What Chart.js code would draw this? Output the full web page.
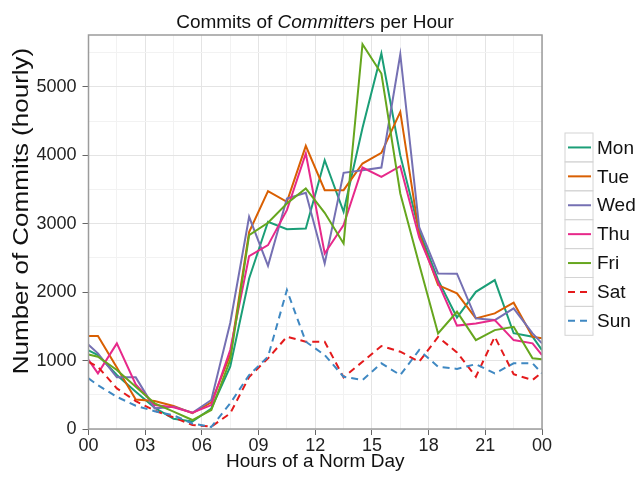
<!DOCTYPE html>
<html>
<head>
<meta charset="utf-8">
<script src="https://cdn.jsdelivr.net/npm/chart.js@4.4.1/dist/chart.umd.min.js"></script>
<style>
  html, body { margin: 0; padding: 0; background: #fff; }
  #wrap { position: relative; width: 636px; height: 480px; }
  #chart { position: absolute; left: 0; top: 0; }
  #title {
    position: absolute; left: 88px; width: 454px; top: 11px;
    text-align: center; line-height: 22px; color: #111;
    font: 19px "Liberation Sans", Arial, sans-serif;
  }
</style>
</head>
<body>
<div id="wrap">
  <canvas id="chart" width="636" height="480"></canvas>
  <div id="title">Commits of <i>Committer</i>s per Hour</div>
</div>
<script>
// ---------- Data ----------
const hours = [0, 0.5, 1.5, 2.5, 3.5, 4.5, 5.5, 6.5, 7.5, 8.5, 9.5, 10.5, 11.5,
  12.5, 13.5, 14.5, 15.5, 16.5, 17.5, 18.5, 19.5, 20.5, 21.5, 22.5, 23.5, 24];

const mon = [1150, 1080, 790, 545, 310, 150, 110, 300, 910, 2200, 3030, 2920, 2930,
  3930, 3175, 4400, 5490, 4000, 2900, 2180, 1630, 2006, 2177, 1400, 1349, 1154];
const tue = [1359, 1359, 900, 430, 409, 336, 230, 390, 1081, 2880, 3477, 3321, 4140,
  3492, 3492, 3881, 4037, 4636, 2850, 2104, 1982, 1617, 1690, 1846, 1349, 1325];
const wed = [1230, 1106, 755, 755, 302, 326, 238, 424, 1550, 3102, 2386, 3370, 3453,
  2420, 3745, 3784, 3823, 5479, 2950, 2274, 2270, 1617, 1592, 1763, 1398, 1252];
const thu = [1010, 813, 1252, 650, 350, 317, 238, 350, 1154, 2527, 2688, 3200, 4028,
  2566, 2980, 3823, 3687, 3842, 2800, 2140, 1512, 1544, 1592, 1300, 1252, 1081];
const fri = [1090, 1057, 862, 618, 375, 253, 131, 278, 1008, 2834, 3015, 3297, 3516,
  3160, 2713, 5625, 5196, 3443, 2410, 1397, 1714, 1300, 1446, 1495, 1033, 1018];
const sat = [980, 910, 594, 409, 268, 170, 58, 34, 229, 760, 1033, 1349, 1276,
  1276, 755, 983, 1213, 1130, 983, 1345, 1120, 764, 1349, 800, 716, 830];
const sun = [740, 640, 470, 340, 260, 200, 80, 30, 375, 789, 1057, 2031, 1276,
  1081, 764, 716, 960, 789, 1154, 910, 879, 948, 813, 960, 960, 813];

const dayNames = ['Mon', 'Tue', 'Wed', 'Thu', 'Fri', 'Sat', 'Sun'];
const xTickLabels = ['00', '03', '06', '09', '12', '15', '18', '21', '00'];
const yTickLabels = ['0', '1000', '2000', '3000', '4000', '5000'];
const xTitle = 'Hours of a Norm Day';
const yTitle = 'Number of Commits (hourly)';

// ---------- Styles ----------
const FONT = '"Liberation Sans", Arial, sans-serif';
const colors = ['#1B9E77', '#D95F02', '#7570B3', '#E7298A', '#66A61E', '#E41A1C', '#3F88C2'];
const dashes = [[], [], [], [], [], [7, 5], [7, 5]];
const series = [mon, tue, wed, thu, fri, sat, sun];

const datasets = series.map((vals, i) => ({
  label: dayNames[i],
  data: vals.map((v, k) => ({ x: hours[k], y: v })),
  borderColor: colors[i],
  borderDash: dashes[i],
  borderWidth: 2,
  pointRadius: 0,
  tension: 0,
  fill: false,
  order: 7 - i   // later series drawn on top
}));

const isMajorX = v => Math.abs(v % 3) < 1e-6;
const isMajorY = v => v % 1000 === 0;

// frame, rotated y title and boxed legend
const decorations = {
  id: 'decorations',
  afterDraw(chart) {
    const ctx = chart.ctx;
    const a = chart.chartArea;
    ctx.save();
    ctx.strokeStyle = '#9c9c9c';
    ctx.lineWidth = 1.5;
    ctx.strokeRect(a.left, a.top, a.right - a.left, a.bottom - a.top);

    ctx.save();
    ctx.translate(22, 211);
    ctx.scale(0.86, 1);
    ctx.rotate(-Math.PI / 2);
    ctx.font = '26px ' + FONT;
    ctx.fillStyle = '#111';
    ctx.textAlign = 'center';
    ctx.textBaseline = 'middle';
    ctx.fillText(yTitle, 0, 0);
    ctx.restore();

    const lx = 565, ly = 133, kw = 28, rh = 28.9;
    chart.data.datasets.forEach((ds, i) => {
      const top = ly + i * rh;
      const mid = top + rh / 2;
      ctx.setLineDash([]);
      ctx.strokeStyle = '#d4d4d4';
      ctx.lineWidth = 1;
      ctx.strokeRect(lx, top, kw, rh);
      ctx.strokeStyle = ds.borderColor;
      ctx.lineWidth = 2;
      ctx.setLineDash(ds.borderDash);
      ctx.beginPath();
      ctx.moveTo(lx + 3, mid);
      ctx.lineTo(lx + kw - 2, mid);
      ctx.stroke();
      ctx.setLineDash([]);
      ctx.fillStyle = '#111';
      ctx.font = '19px ' + FONT;
      ctx.textAlign = 'left';
      ctx.textBaseline = 'middle';
      ctx.fillText(ds.label, lx + kw + 4, mid + 1);
    });
    ctx.restore();
  }
};

new Chart(document.getElementById('chart'), {
  type: 'line',
  data: { datasets },
  plugins: [decorations],
  options: {
    responsive: false,
    animation: false,
    layout: { padding: { left: 0, right: 94, top: 35, bottom: 0 } },
    plugins: { legend: { display: false }, tooltip: { enabled: false } },
    scales: {
      x: {
        type: 'linear',
        min: 0,
        max: 24,
        afterFit: s => { s.height = 51; },
        border: { display: false },
        grid: {
          color: c => isMajorX(c.tick.value) ? '#e4e4e4' : '#f2f2f2',
          tickColor: c => isMajorX(c.tick.value) ? '#666' : 'rgba(0,0,0,0)',
          tickLength: 6,
          lineWidth: 1
        },
        ticks: {
          stepSize: 1.5,
          autoSkip: false,
          maxRotation: 0,
          includeBounds: false,
          padding: 0,
          color: '#222',
          font: { family: FONT, size: 18 },
          callback: v => isMajorX(v) ? xTickLabels[Math.round(v / 3)] : ''
        },
        title: {
          display: true,
          text: xTitle,
          color: '#111',
          font: { family: FONT, size: 19 },
          padding: { top: 0, bottom: 7 }
        }
      },
      y: {
        min: 0,
        max: 5760,
        afterFit: s => { s.width = 88.5; },
        // grid every 500, labels every 1000
        afterBuildTicks: s => {
          const t = [];
          for (let v = 0; v < s.max; v += 500) t.push({ value: v });
          s.ticks = t;
        },
        border: { display: false },
        grid: {
          color: c => isMajorY(c.tick.value) ? '#e4e4e4' : '#f2f2f2',
          tickColor: c => isMajorY(c.tick.value) ? '#666' : 'rgba(0,0,0,0)',
          tickLength: 6,
          lineWidth: 1
        },
        ticks: {
          autoSkip: false,
          padding: 6,
          color: '#222',
          font: { family: FONT, size: 18 },
          callback: v => isMajorY(v) ? yTickLabels[v / 1000] : ''
        }
      }
    }
  }
});
</script>
</body>
</html>
